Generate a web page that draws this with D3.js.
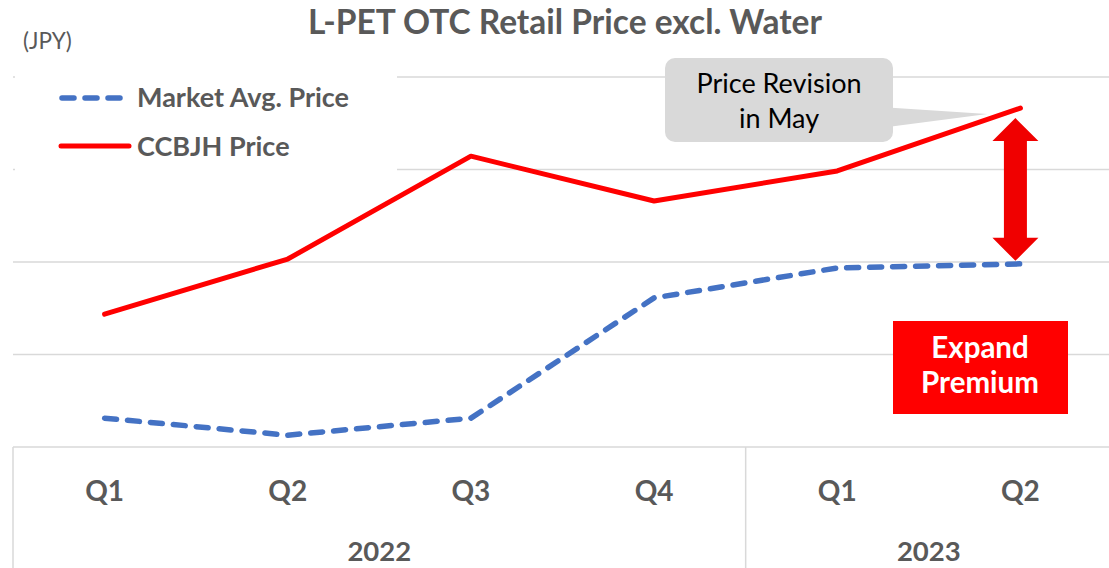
<!DOCTYPE html>
<html><head><meta charset="utf-8">
<script src="https://cdn.jsdelivr.net/npm/d3@7"></script>
<style>body{margin:0;background:#fff}svg{display:block}</style>
</head><body><svg id="c" width="1109" height="568"></svg>
<script>
const quarters = ["Q1","Q2","Q3","Q4","Q1","Q2"];
const years = ["2022","2022","2022","2022","2023","2023"];
const yearGroups = [{year:"2022", from:0, to:3},{year:"2023", from:4, to:5}];
const marketAvg = [7.8, 3.2, 7.8, 40.3, 48.4, 49.5];
const ccbjh = [35.9, 50.8, 78.6, 66.5, 74.6, 91.6];
const yTicks = [0, 25, 50, 75, 100];
const seriesNames = ["Market Avg. Price", "CCBJH Price"];

(function(){
const svg = d3.select("#c");
const font = "Lato, 'Open Sans', sans-serif";
const grey = "#595959", gridC = "#d9d9d9";
const pLeft = 13, pRight = 1112, pTop = 77, pBottom = 447;
const idx = d3.range(quarters.length);
const x = d3.scalePoint().domain(idx).range([pLeft, pRight]).padding(0.5);
const band = x.step();
const y = d3.scaleLinear().domain([0, 100]).range([pBottom, pTop]);

svg.append("g").selectAll("line").data(yTicks.slice(1)).join("line")
  .attr("x1", pLeft).attr("x2", 1109).attr("y1", d => y(d)).attr("y2", d => y(d))
  .attr("stroke", gridC).attr("stroke-width", 1.5);
svg.append("line").attr("x1", pLeft).attr("x2", 1109).attr("y1", pBottom).attr("y2", pBottom)
  .attr("stroke", gridC).attr("stroke-width", 1.5);
const dividers = [x(0) - band/2, x(4) - band/2];
svg.append("g").selectAll("line").data(dividers).join("line")
  .attr("x1", d => d).attr("x2", d => d).attr("y1", pBottom).attr("y2", 568)
  .attr("stroke", gridC).attr("stroke-width", 1.5);
svg.append("g").selectAll("text").data(idx).join("text")
  .attr("x", i => x(i)).attr("y", 501).attr("text-anchor", "middle")
  .attr("font-family", font).attr("font-weight", "bold").attr("font-size", 28)
  .attr("fill", grey).text(i => quarters[i]);
svg.append("g").selectAll("text").data(yearGroups).join("text")
  .attr("x", d => (x(d.from) + x(d.to)) / 2).attr("y", 561).attr("text-anchor", "middle")
  .attr("font-family", font).attr("font-weight", "bold").attr("font-size", 27.5)
  .attr("fill", grey).text(d => d.year);

svg.append("rect").attr("x", pLeft + 2).attr("y", 60).attr("width", 382).attr("height", 120).attr("fill", "#fff");

const line = d3.line().x((d, i) => x(i)).y(d => y(d));
svg.append("path").datum(marketAvg).attr("d", line).attr("fill", "none")
  .attr("stroke", "#4472c4").attr("stroke-width", 5.5).attr("stroke-dasharray", "12,11")
  .attr("stroke-linecap", "round").attr("stroke-linejoin", "round");
svg.append("path").datum(ccbjh).attr("d", line).attr("fill", "none")
  .attr("stroke", "#ff0000").attr("stroke-width", 5).attr("stroke-linejoin", "round")
  .attr("stroke-linecap", "round");

svg.append("text").attr("x", 565).attr("y", 34).attr("text-anchor", "middle")
  .attr("font-family", font).attr("font-weight", "bold").attr("font-size", 33.5)
  .attr("fill", grey).text("L-PET OTC Retail Price excl. Water");
svg.append("text").attr("x", 23).attr("y", 49).attr("font-family", font).attr("font-size", 22.5)
  .attr("fill", grey).text("(JPY)");

const lg = svg.append("g");
lg.append("line").attr("x1", 62).attr("x2", 124).attr("y1", 98).attr("y2", 98)
  .attr("stroke", "#4472c4").attr("stroke-width", 5.5).attr("stroke-dasharray", "12,11").attr("stroke-linecap", "round");
lg.append("line").attr("x1", 61).attr("x2", 129).attr("y1", 146).attr("y2", 146)
  .attr("stroke", "#ff0000").attr("stroke-width", 5).attr("stroke-linecap", "round");
lg.selectAll("text").data(seriesNames).join("text")
  .attr("x", 137).attr("y", (d, i) => 107 + i * 49)
  .attr("font-family", font).attr("font-weight", "bold").attr("font-size", 27)
  .attr("fill", grey).text(d => d);

const tipX = x(5) - 33, tipY = y(ccbjh[5]) + 6;
svg.append("path").attr("d", `M880,107 L${tipX},${tipY} L880,128 Z`).attr("fill", "#d9d9d9");
svg.append("rect").attr("x", 665).attr("y", 58).attr("width", 228).attr("height", 84)
  .attr("rx", 10).attr("fill", "#d9d9d9");
svg.append("text").attr("x", 779).attr("y", 93).attr("text-anchor", "middle")
  .attr("font-family", font).attr("font-size", 27).attr("fill", "#000").text("Price Revision");
svg.append("text").attr("x", 779).attr("y", 128).attr("text-anchor", "middle")
  .attr("font-family", font).attr("font-size", 27).attr("fill", "#000").text("in May");

const ax = x(5) - 5, at = y(ccbjh[5]) + 10, ab = y(marketAvg[5]) - 3;
const hw = 23, sw = 11.5, hh = 23;
svg.append("path").attr("fill", "#f00000").attr("d",
  `M${ax},${at} L${ax+hw},${at+hh} L${ax+sw},${at+hh} L${ax+sw},${ab-hh} L${ax+hw},${ab-hh}
   L${ax},${ab} L${ax-hw},${ab-hh} L${ax-sw},${ab-hh} L${ax-sw},${at+hh} L${ax-hw},${at+hh} Z`);

svg.append("rect").attr("x", 893).attr("y", 321).attr("width", 175).attr("height", 93).attr("fill", "#ff0000");
svg.append("text").attr("x", 980).attr("y", 358).attr("text-anchor", "middle")
  .attr("font-family", font).attr("font-weight", "bold").attr("font-size", 29.5).attr("fill", "#fff").text("Expand");
svg.append("text").attr("x", 980).attr("y", 393).attr("text-anchor", "middle")
  .attr("font-family", font).attr("font-weight", "bold").attr("font-size", 29.5).attr("fill", "#fff").text("Premium");
})();
</script></body></html>
